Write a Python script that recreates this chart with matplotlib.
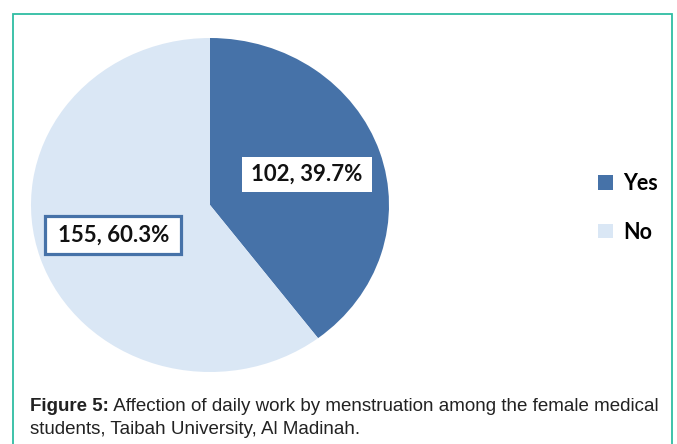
import matplotlib
matplotlib.use('Agg')
import matplotlib.pyplot as plt
import numpy as np
from matplotlib.patches import Rectangle, Patch

categories = ['Yes', 'No']
counts = [102, 155]
percents = [39.7, 60.3]
caption_bold = 'Figure 5:'
caption_rest = ' Affection of daily work by menstruation among the female medical'
caption_line2 = 'students, Taibah University, Al Madinah.'

W, H = 677, 444
fig = plt.figure(figsize=(W / 100, H / 100), dpi=100)
fig.patch.set_facecolor('white')

# outer teal frame
fig.patches.append(Rectangle((13 / W, -0.05), (672 - 13) / W, (H - 14) / H + 0.05,
                             transform=fig.transFigure, fill=False,
                             edgecolor='#2fbda3', lw=1.3))

colors = ['#4672a8', '#dae7f5']
ax = fig.add_axes([31 / W, 72 / H, 358 / W, 334 / H])
wedges, _ = ax.pie(counts, colors=colors, startangle=90, counterclock=False,
                   radius=1, wedgeprops=dict(linewidth=0))
ax.set_aspect('auto')
ax.set_xlim(-1, 1)
ax.set_ylim(-1, 1)
ax.axis('off')

# pixel -> data unit scales for box sizes
sx, sy = 2 / 358, 2 / 334
label_font = ['Lato', 'DejaVu Sans']
box_px = [(130, 35), (136, 38)]
for i, w in enumerate(wedges):
    mid = np.deg2rad((w.theta1 + w.theta2) / 2)
    r = 0.57
    x, y = r * np.cos(mid), r * np.sin(mid)
    bw, bh = box_px[i][0] * sx, box_px[i][1] * sy
    if i == 0:
        rect = Rectangle((x - bw / 2, y - bh / 2), bw, bh, fc='white', ec='none', zorder=3)
    else:
        rect = Rectangle((x - bw / 2, y - bh / 2), bw, bh, fc='white', ec=colors[0],
                         lw=2.3, zorder=3)
    ax.add_patch(rect)
    ax.text(x, y, f'{counts[i]}, {percents[i]}%', ha='center', va='center',
            fontsize=16, fontweight='bold', family=label_font, color='#111111', zorder=4)

handles = [Patch(facecolor=c, edgecolor='none') for c in colors]
fig.legend(handles, categories, loc='center left', bbox_to_anchor=(598 / W, 1 - 208 / H),
           frameon=False, borderpad=0, borderaxespad=0, handlelength=0.7,
           handleheight=0.65, handletextpad=0.47, labelspacing=1.28,
           prop=dict(family=label_font, weight='bold', size=15.5))

cap_font = ['Liberation Sans', 'DejaVu Sans']
cap_size = 13.5
t1 = fig.text(30 / W, 1 - 411 / H, caption_bold, fontsize=cap_size, fontweight='bold',
              family=cap_font, va='baseline', color='#222222')
fig.canvas.draw()
bb = t1.get_window_extent()
fig.text(bb.x1 / W, 1 - 411 / H, caption_rest, fontsize=cap_size, family=cap_font,
         va='baseline', color='#222222')
fig.text(30 / W, 1 - 434 / H, caption_line2, fontsize=cap_size, family=cap_font,
         va='baseline', color='#222222')

fig.savefig('out.png', dpi=100)
